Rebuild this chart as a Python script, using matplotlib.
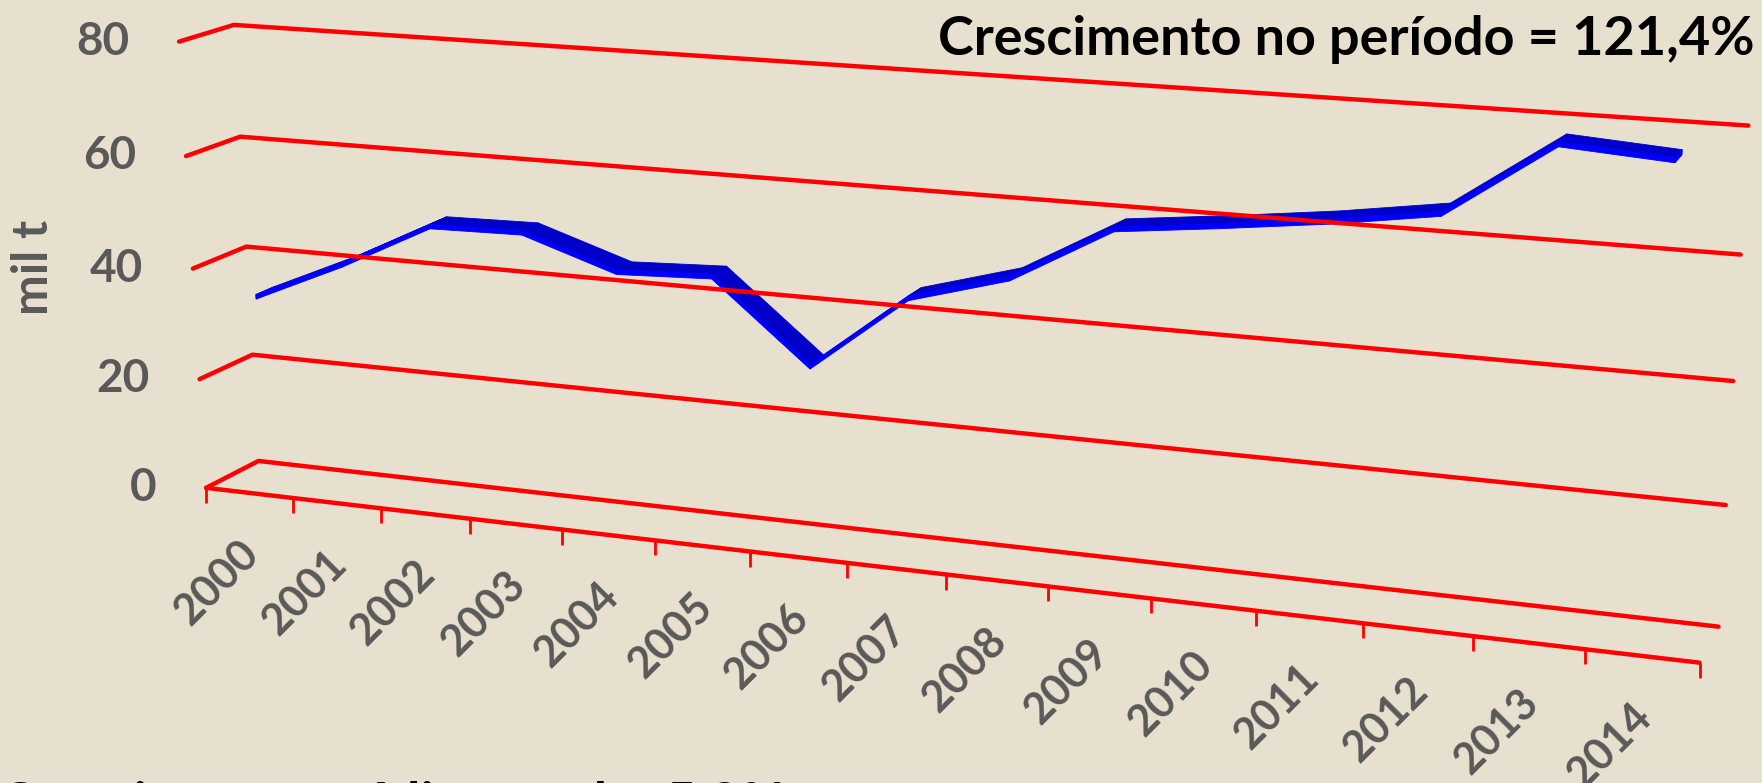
import numpy as np
import matplotlib
matplotlib.use("Agg")
import matplotlib.pyplot as plt

# data
years = [str(y) for y in range(2000, 2015)]
values = [34.7, 41.9, 50.1, 50.4, 45.0, 45.7, 31.8, 45.0, 49.8, 59.3, 61.2, 63.3, 65.9, 78.0, 76.8]
grid_values = [0, 20, 40, 60, 80]
title = "Crescimento no período = 121,4%"
footer = "Crescimento médio anual = 5,8%"
ylabel = "mil t"

W, H = 1762, 783
bg = '#E7E0CF'
red = '#FF0000'
gray = '#595959'
dark_blue = '#0000C8'
blue = '#0000FF'

# perspective camera of the 3D chart: world (category pos, depth 0..1, value/20) -> pixels/1000
VIEW = np.array([[0.083719, 0.058674, -0.008291, 0.206167],
                 [0.005478, -0.015530, -0.111917, 0.487849],
                 [-0.009320, 0.024663, -0.008526, 1.0]])

# depth range of the ribbon inside the box, and its thickness (value units)
ribbon_front, ribbon_back = 0.33, 0.675
ribbon_thick = 0.8


def proj(x, depth, val):
    x = np.asarray(x, float)
    depth = np.asarray(depth, float) * np.ones_like(x)
    z = np.asarray(val, float) / 20 * np.ones_like(x)
    h = VIEW @ np.stack([x, depth, z, np.ones_like(x)])
    return h[0] / h[2] * 1000, h[1] / h[2] * 1000


fig = plt.figure(figsize=(W / 100, H / 100), dpi=100)
fig.patch.set_facecolor(bg)
ax = fig.add_axes([0, 0, 1, 1])
ax.set_xlim(0, W)
ax.set_ylim(H, 0)
ax.axis('off')

ncat = len(years)

# gridlines: side wall + back wall
for g in grid_values:
    u, v = proj([0, 0, ncat], [0, 1, 1], g)
    ax.plot(u, v, color=red, lw=3.2, solid_capstyle='round', solid_joinstyle='round')

# floor front edge and tick marks
u, v = proj([0, ncat], 0, 0)
ax.plot(u, v, color=red, lw=3.2, solid_capstyle='round')
for k in range(ncat + 1):
    u, v = proj([k], 0, 0)
    ax.plot([u[0], u[0]], [v[0], v[0] + 15], color=red, lw=2.0, solid_capstyle='butt')

# 3D ribbon line
xs = np.arange(ncat) + 0.5
for i in range(ncat - 1):
    x4 = [xs[i], xs[i + 1], xs[i + 1], xs[i]]
    top = [values[i], values[i + 1], values[i + 1], values[i]]
    u, v = proj(x4, [ribbon_front, ribbon_front, ribbon_back, ribbon_back], top)
    ax.fill(u, v, color=dark_blue, lw=0.6)
    low = [values[i], values[i + 1], values[i + 1] - ribbon_thick, values[i] - ribbon_thick]
    u, v = proj(x4, ribbon_front, low)
    ax.fill(u, v, color=blue, lw=0.6)
for i in [0, ncat - 1]:
    u, v = proj([xs[i]] * 4, [ribbon_front, ribbon_back, ribbon_back, ribbon_front],
                [values[i], values[i], values[i] - ribbon_thick, values[i] - ribbon_thick])
    ax.fill(u, v, color=blue, lw=0.6)

# value axis labels
for g in grid_values:
    u, v = proj([0], 0, g)
    ax.text(u[0] - 50, v[0], str(g), ha='right', va='center', fontsize=33,
            fontweight='bold', color=gray, family='Lato')

# category labels
for i, yl in enumerate(years):
    u, v = proj([i + 0.5], 0, 0)
    ax.text(u[0] + 3, v[0] + 54, yl, rotation=45, rotation_mode='anchor', ha='right',
            va='center', fontsize=31, fontweight='bold', color=gray, family='Lato')

ax.text(33, 267, ylabel, rotation=90, ha='center', va='center', fontsize=35,
        fontweight='bold', color=gray, family='Lato')
ax.text(1755, 55, title, ha='right', va='baseline', fontsize=38.9,
        fontweight='bold', color='black', family='Lato')
ax.text(-1, 820, footer, ha='left', va='baseline', fontsize=38.9,
        fontweight='bold', color='black', family='Lato')

fig.savefig('out.png', dpi=100, facecolor=bg)
